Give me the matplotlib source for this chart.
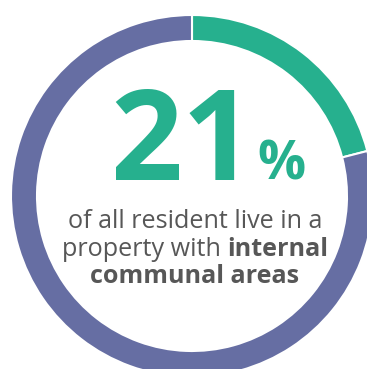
import matplotlib
matplotlib.use("Agg")
import matplotlib.pyplot as plt
from matplotlib.textpath import TextPath
from matplotlib.font_manager import FontProperties

# данные
labels = ["internal communal areas", "other"]
shares = [21, 79]
colors = ["#26B08E", "#666EA3"]

big_number = "21"
percent_sign = "%"
line1 = "of all resident live in a"
line2_regular = "property with "
line2_bold = "internal"
line3 = "communal areas"

W, H = 367, 369
DPI = 100
fig = plt.figure(figsize=(W / DPI, H / DPI), dpi=DPI)
ax = fig.add_axes([0, 0, 1, 1])

cx, cy = 192, H - 196
ax.pie(shares, colors=colors, startangle=90, counterclock=False,
       center=(cx, cy), radius=181,
       wedgeprops=dict(width=26, edgecolor="white", linewidth=1.5))
ax.set_xlim(0, W)
ax.set_ylim(0, H)
ax.set_aspect("equal")
ax.axis("off")

font = "Open Sans"
grey = "#575757"
bold = FontProperties(family=font, weight="bold")


def glyph_box(s, prop, size):
    # плотные границы глифов в пикселях при заданном кегле
    e = TextPath((0, 0), s, size=100, prop=prop).get_extents()
    k = size / 100 * DPI / 72
    return e.x0 * k, e.x1 * k, e.y0 * k, e.y1 * k


def place_fit(s, prop, left, right, top, base, color):
    # подбор кегля под рамку (среднее по ширине и высоте) и центрирование
    x0, x1, y0, y1 = glyph_box(s, prop, 100)
    s_w = 100 * (right - left) / (x1 - x0)
    s_h = 100 * (base - top) / (y1 - y0)
    size = (s_w * s_h) ** 0.5
    x0, x1, y0, y1 = glyph_box(s, prop, size)
    ox = (left + right) / 2 - (x0 + x1) / 2
    ax.text(ox, H - base, s, fontproperties=prop, fontsize=size,
            color=color, ha="left", va="baseline")


place_fit(big_number, bold, 117, 232, 85, 180, colors[0])
place_fit(percent_sign, bold, 259, 304, 141, 180, colors[0])

# подпись: кегль подбирается под ширину первой строки
renderer = fig.canvas.get_renderer()
tx = 195
fs = 15.0
t_l1 = ax.text(tx, H - 228, line1, fontsize=fs, family=font, color=grey,
               ha="center", va="baseline")
fs *= 255 / t_l1.get_window_extent(renderer).width
t_l1.set_fontsize(fs)

ax.text(tx, H - 283, line3, fontsize=fs, fontweight="bold", family=font,
        color=grey, ha="center", va="baseline")

t1 = ax.text(0, H - 255.5, line2_regular, fontsize=fs, family=font,
             color=grey, ha="left", va="baseline")
t2 = ax.text(0, H - 255.5, line2_bold, fontsize=fs, fontweight="bold",
             family=font, color=grey, ha="left", va="baseline")
w1 = t1.get_window_extent(renderer).width
w2 = t2.get_window_extent(renderer).width
start = tx - (w1 + w2) / 2
t1.set_x(start)
t2.set_x(start + w1)

fig.savefig("out.png", dpi=DPI)
